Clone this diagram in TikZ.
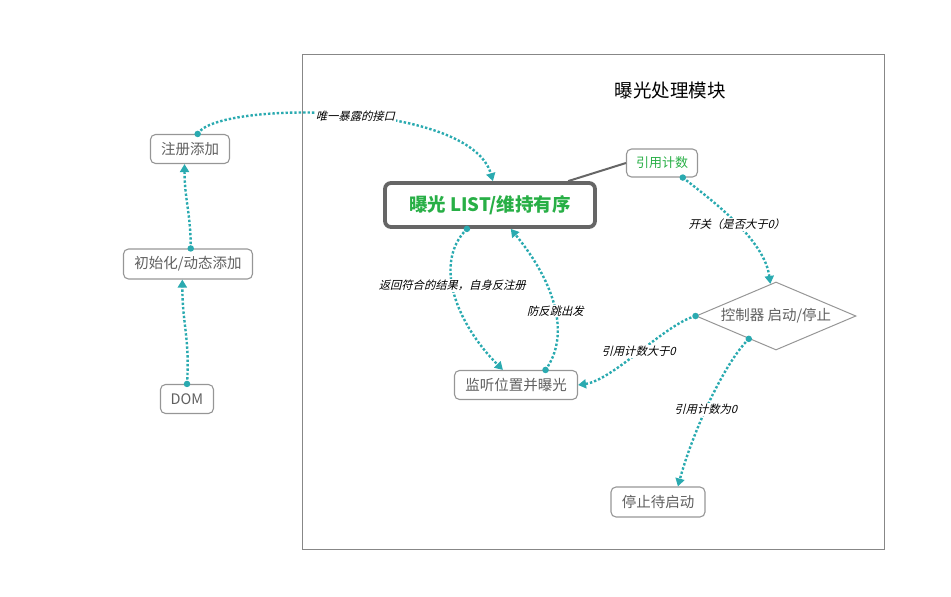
\documentclass[tikz,border=0pt]{standalone}
\usepackage{fontspec}
\setmainfont{Noto Sans CJK SC}
\newfontfamily\lblfont[FakeSlant=0.25]{Noto Sans CJK SC}
\usepackage{xcolor}
\usetikzlibrary{arrows.meta,positioning,shapes.geometric,calc}

\definecolor{flowteal}{RGB}{42,170,176}
\definecolor{boxgray}{RGB}{150,150,150}
\definecolor{txtgray}{RGB}{95,95,95}
\definecolor{listgreen}{RGB}{40,175,70}

\begin{document}
\begin{tikzpicture}[
    x=1pt, y=-1pt,
    box/.style={draw=boxgray, line width=1.1pt, rounded corners=5pt, align=center,
      inner sep=0pt, minimum height=29pt, text=txtgray, font=\fontsize{14.5}{16}\selectfont},
    listbox/.style={draw=black!60, line width=3.8pt, rounded corners=6pt, inner sep=0pt,
      minimum width=210pt, minimum height=44pt, text=listgreen,
      font=\fontsize{18.5}{20}\selectfont\bfseries},
    ctrlbox/.style={draw=boxgray, line width=1pt, diamond, aspect=2.35, inner sep=0pt,
      minimum width=160pt, minimum height=68pt, text=txtgray, font=\fontsize{14.5}{16}\selectfont},
    arr/.style={flowteal, line width=2.4pt, dash pattern=on 2.4pt off 2pt,
      -{Triangle[length=8pt,width=9pt]}},
    startdot/.style={circle, fill=flowteal, inner sep=0pt, minimum size=6.5pt},
    lbl/.style={fill=white, inner sep=1pt, text=black, font=\lblfont\fontsize{11.3}{13}\selectfont}
  ]
    \useasboundingbox (0,0) rectangle (951,597);

    % module frame
    \draw[boxgray!90!black, line width=0.9pt] (302,54) rectangle (884,549);
    \node[font=\fontsize{18.5}{20}\selectfont] (title) at (670,90) {曝光处理模块};

    % left column
    \node[box, minimum width=79pt] (reg) at (190,149) {注册添加};
    \node[box, minimum width=129pt, minimum height=30pt] (init) at (188,264) {初始化/动态添加};
    \node[box, minimum width=53pt] (dom) at (187,399) {DOM};

    % module content
    \node[listbox] (list) at (490,205) {曝光 LIST/维持有序};
    \node[box, minimum width=71pt, minimum height=28pt, text=listgreen,
      font=\fontsize{13}{15}\selectfont] (cnt) at (662,163) {引用计数};
    \node[ctrlbox] (ctrl) at (776,316) {控制器 启动/停止};
    \node[box, minimum width=123pt] (mon) at (516,385) {监听位置并曝光};
    \node[box, minimum width=94pt, minimum height=30pt] (stop) at (658,502) {停止待启动};

    \draw[black!60, line width=2pt] (list.17) -- (cnt.west);

    \draw[arr] (dom.north) .. controls +(3,-45) and +(0,45) .. node[pos=0, startdot] {} (init.250);
    \draw[arr] (init.80) .. controls +(0,-35) and +(0,35) .. node[pos=0, startdot] {} (reg.250);
    \draw[arr] (reg.63) .. controls +(17,-33) and +(-23,-81) ..
      node[pos=0, startdot] {} node[pos=0.53, lbl] (l1) {唯一暴露的接口} (list.83);

    \draw[arr] (list.226) .. controls +(-35,35) and +(-45,-45) ..
      node[pos=0, startdot] {} node[pos=0.43, lbl] (l2) {返回符合的结果，自身反注册} (mon.131);
    \draw[arr] (mon.27) .. controls +(25,-35) and +(45,55) ..
      node[pos=0, startdot] {} node[pos=0.47, lbl] (l3) {防反跳出发} (list.311);

    \draw[arr] (cnt.325) .. controls +(28,22) and +(-6,-45) ..
      node[pos=0, startdot] {} node[pos=0.52, lbl] (l4) {开关（是否大于0）} (ctrl.100);
    \draw[arr] (ctrl.west) .. controls +(-30,8) and +(35,-5) ..
      node[pos=0, startdot] {} node[pos=0.5, lbl] (l5) {引用计数大于0} (mon.east);
    \draw[arr] (ctrl.220) .. controls +(-25,25) and +(15,-55) ..
      node[pos=0, startdot] {} node[pos=0.55, lbl] (l6) {引用计数为0} (stop.38);
  \end{tikzpicture}
\end{document}
